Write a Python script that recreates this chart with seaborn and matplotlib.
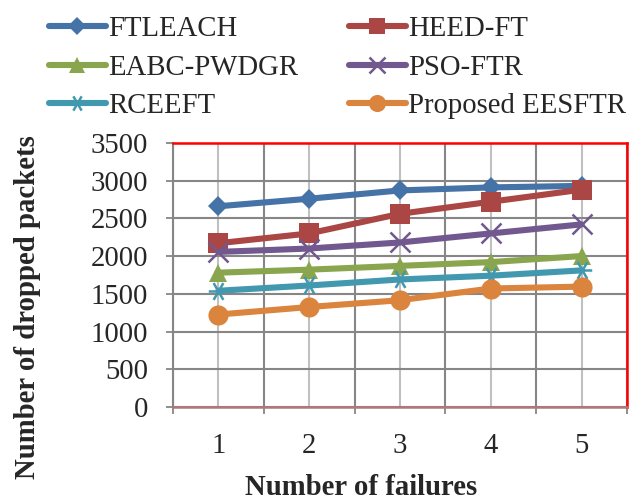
import matplotlib
matplotlib.use("Agg")
import matplotlib.pyplot as plt
from matplotlib import font_manager
from matplotlib.path import Path
import seaborn as sns
import pandas as pd

failures = [1, 2, 3, 4, 5]
ftleach = [2660, 2760, 2870, 2910, 2930]
heed_ft = [2170, 2300, 2560, 2720, 2880]
eabc_pwdgr = [1780, 1820, 1870, 1920, 2000]
pso_ftr = [2055, 2100, 2180, 2300, 2420]
rceeft = [1540, 1610, 1690, 1740, 1810]
eesftr = [1225, 1325, 1415, 1570, 1595]

names = ["FTLEACH", "HEED-FT", "EABC-PWDGR", "PSO-FTR", "RCEEFT", "Proposed EESFTR"]
series = [ftleach, heed_ft, eabc_pwdgr, pso_ftr, rceeft, eesftr]
colors = ["#4572A7", "#AA4643", "#89A54E", "#71588F", "#4198AF", "#DB843D"]

# six-armed asterisk marker (stroked segments)
star = Path(
    [(-1, 0), (1, 0), (-0.5, -0.866), (0.5, 0.866), (-0.5, 0.866), (0.5, -0.866)],
    [Path.MOVETO, Path.LINETO, Path.MOVETO, Path.LINETO, Path.MOVETO, Path.LINETO],
)
markers = ["D", "s", "^", "x", star, "o"]
msizes = [10.5, 14, 13, 14, 14, 14.5]
medges = [0, 0, 0, 1.8, 1.8, 0]

rows = []
for n, vals in zip(names, series):
    for f, v in zip(failures, vals):
        rows.append({"Number of failures": f, "Dropped": v, "Scheme": n})
df = pd.DataFrame(rows)

sns.set_theme(style="white")

# pick a Times-like serif face
available = {f.name for f in font_manager.fontManager.ttflist}
serif = "DejaVu Serif"
for cand in ["Liberation Serif", "Tinos", "Nimbus Roman", "Times New Roman", "FreeSerif"]:
    if cand in available:
        serif = cand
        break
plt.rcParams["font.family"] = [serif, "DejaVu Serif"]

FS = 20.7

fig = plt.figure(figsize=(6.43, 5.04), dpi=100)
ax = fig.add_axes([0.269, 0.1925, 0.706, 0.524])

handles = {}
for n, c, m, ms, me in zip(names, colors, markers, msizes, medges):
    sub = df[df["Scheme"] == n]
    sns.lineplot(data=sub, x="Number of failures", y="Dropped", ax=ax, color=c,
                 linewidth=4.4, marker=m, markersize=ms, markeredgewidth=me,
                 markeredgecolor=c, markerfacecolor=c, legend=False, zorder=3)
    handles[n] = ax.lines[-1]

ax.set_xlim(0.5, 5.5)
ax.set_ylim(0, 3500)
ax.set_yticks(range(0, 3501, 500))
ax.set_xticks([0.5, 1.5, 2.5, 3.5, 4.5, 5.5])
ax.set_xticklabels([])
ax.set_xticks(failures, minor=True)
ax.set_xticklabels([str(f) for f in failures], minor=True)

ax.grid(True, axis="y", color="#868686", linewidth=1.5, zorder=0)
ax.grid(True, axis="x", which="major", color="#868686", linewidth=1.5, zorder=0)
ax.grid(True, axis="x", which="minor", color="#c0c0c0", linewidth=1.5, zorder=0)
ax.set_axisbelow(True)

ax.tick_params(axis="y", which="major", direction="out", length=5, width=1.3,
               color="#868686", labelsize=FS, pad=13, left=True)
ax.tick_params(axis="x", which="major", direction="out", length=5, width=1.3,
               color="#868686", bottom=True)
ax.tick_params(axis="x", which="minor", length=0, labelsize=FS, pad=18.5)

ax.spines["left"].set_color("#868686")
ax.spines["left"].set_linewidth(1.5)
ax.spines["top"].set_color("#ff0000")
ax.spines["right"].set_color("#ff0000")
ax.spines["top"].set_linewidth(1.8)
ax.spines["right"].set_linewidth(1.8)
ax.spines["bottom"].set_color("#b07878")
ax.spines["bottom"].set_linewidth(1.8)

ax.set_xlabel("Number of failures", fontsize=FS, fontweight="bold")
ax.set_ylabel("Number of dropped packets", fontsize=FS, fontweight="bold")
ax.xaxis.set_label_coords(0.414, -0.254)
ax.yaxis.set_label_coords(-0.29, 0.377)

order = ["FTLEACH", "EABC-PWDGR", "RCEEFT", "HEED-FT", "PSO-FTR", "Proposed EESFTR"]
fig.legend([handles[n] for n in order], order, loc="upper left",
           bbox_to_anchor=(0.076, 0.968), ncol=2, frameon=False, fontsize=FS,
           handlelength=1.98, handletextpad=0.07, columnspacing=1.77,
           labelspacing=0.43, borderpad=0, borderaxespad=0, markerscale=0.85)

fig.savefig("out.png", dpi=100)
